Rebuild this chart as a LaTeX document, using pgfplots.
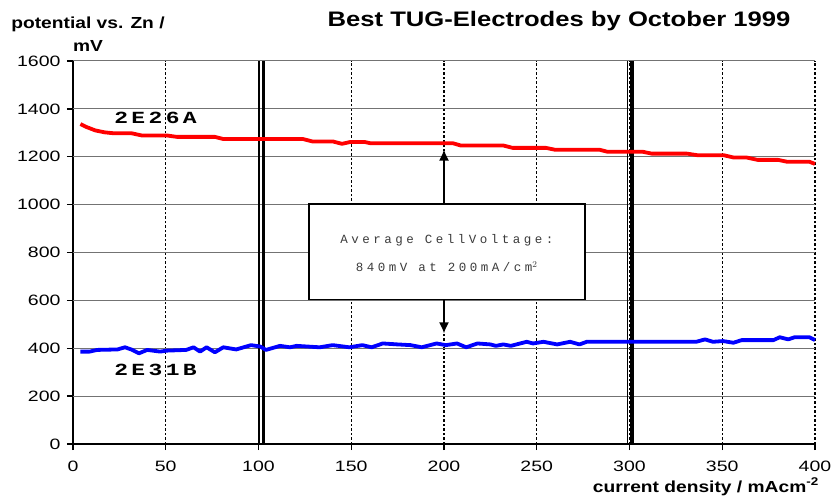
\documentclass[border=0pt]{standalone}
\usepackage{fontspec}
\setmainfont{Liberation Sans}
\usepackage{pgfplots}
\pgfplotsset{compat=1.18}
\usetikzlibrary{arrows.meta}
\newfontfamily\tickfont[FakeStretch=1.3]{Liberation Sans}
\newfontfamily\labfont[FakeStretch=1.2]{Liberation Sans}
\newfontfamily\titlefont[FakeStretch=1.22]{Liberation Sans}
\newfontfamily\boxfont[LetterSpace=28]{Liberation Mono}
\newfontfamily\serfont[FakeStretch=1.35,LetterSpace=20]{Liberation Mono}
\definecolor{boxgray}{RGB}{60,60,60}
\tikzset{hgrid/.style={draw=black!55, line width=1bp}}
\begin{document}
\begin{tikzpicture}
\useasboundingbox (-73bp,-60bp) rectangle (759bp,444bp);
\begin{axis}[
  at={(0,0)}, anchor=south west,
  scale only axis, width=742bp, height=383bp,
  xmin=0, xmax=400, ymin=0, ymax=1600,
  xtick={0,50,...,400}, ytick={0,200,...,1600},
  axis lines=left, axis line style={-, line width=1.8bp, black},
  tick align=outside, major tick length=6bp,
  major tick style={line width=1.4bp, black},
  xmajorgrids=true, ymajorgrids=false,
  major grid style={draw=black, line width=1.3bp, dash pattern=on 2.5bp off 2bp},
  /pgf/number format/assume math mode=true,
  /pgf/number format/set thousands separator={},
  ticklabel style={font=\tickfont\fontsize{15bp}{18bp}\selectfont},
  yticklabel style={xshift=-3bp},
  xticklabel style={yshift=-8bp},
  clip=false,
]
% horizontal grid
\draw[hgrid] (axis cs:0,200) -- (axis cs:400,200);
\draw[hgrid] (axis cs:0,400) -- (axis cs:400,400);
\draw[hgrid] (axis cs:0,600) -- (axis cs:400,600);
\draw[hgrid] (axis cs:0,800) -- (axis cs:400,800);
\draw[hgrid] (axis cs:0,1000) -- (axis cs:400,1000);
\draw[hgrid] (axis cs:0,1200) -- (axis cs:400,1200);
\draw[hgrid] (axis cs:0,1400) -- (axis cs:400,1400);
\draw[hgrid] (axis cs:0,1600) -- (axis cs:400,1600);
% vertical marker lines
\addplot[black, line width=1.4bp] coordinates {(100.3,0) (100.3,1600)};
\addplot[black, line width=3.5bp] coordinates {(102.6,0) (102.6,1600)};
\addplot[black, line width=1.4bp] coordinates {(299,0) (299,1600)};
\addplot[black, line width=3.5bp] coordinates {(301.3,0) (301.3,1600)};
% 2E26A
\addplot[red, line width=3.8bp, line join=round] coordinates {
(4,1337)(7,1325)(12,1310)(17,1302)(22,1298)(31.6,1298)(37,1289)(50.5,1289)(56,1283)(76.5,1283)(81,1274)(124,1274)(129,1264)(140,1264)(145,1254)(149.7,1262)(157,1262)(160.6,1256)(205,1256)(209,1247)(232,1247)(237,1237)(255,1237)(260,1229)(284,1229)(288,1221)(307,1221)(312,1213)(331,1213)(337,1206)(351,1206)(356,1197)(363,1197)(369,1187)(380,1187)(385,1179)(397,1179)(400,1170)};
% 2E31B
\addplot[blue, line width=3.8bp, line join=round] coordinates {
(4,386)(9,386)(13,393)(24,395)(28,404)(31.4,395)(35.6,379)(40,393)(47,386)(50.5,390)(61,393)(65,404)(68.5,386)(72,404)(76.5,383)(81,404)(88,395)(96,413)(101,407)(104,393)(111.6,410)(117,404)(120.6,410)(133,404)(140,413)(149,404)(156,413)(161,404)(167,420)(175,416)(182,413)(188,404)(196,420)(201,413)(207,420)(212,404)(218,420)(225,416)(228,410)(232,416)(236,410)(244.6,427)(248,420)(253.6,427)(261,416)(268,427)(273,416)(277,427)(336,427)(340.7,437)(345,427)(350.4,430)(356,423)(360.5,434)(377.6,434)(381,446)(385.6,437)(389,446)(397,446)(400,434)};
% annotation box and arrows
\draw[black, line width=1.5bp, fill=white] (axis cs:127.2,604) rectangle (axis cs:276,1003);
\draw[black, line width=1.5bp, -{Latex[length=11bp,width=10bp]}] (axis cs:200,1003) -- (axis cs:200,1230);
\draw[black, line width=1.5bp, -{Latex[length=11bp,width=10bp]}] (axis cs:200,604) -- (axis cs:200,462);
\node[text=boxgray, font=\boxfont\fontsize{12.5bp}{14bp}\selectfont, anchor=base] at (axis cs:201.5,836) {Average CellVoltage:};
\node[text=boxgray, font=\boxfont\fontsize{12.5bp}{14bp}\selectfont, anchor=base] at (axis cs:201.5,720) {840mV at 200mA/cm$^{2}$};
\node[font=\serfont\bfseries\fontsize{17bp}{20bp}\selectfont] at (axis cs:44.5,1363) {2E26A};
\node[font=\serfont\bfseries\fontsize{17bp}{20bp}\selectfont] at (axis cs:44.5,309) {2E31B};
\end{axis}
\node[font=\titlefont\bfseries\fontsize{21bp}{24bp}\selectfont, anchor=base] at (486bp,417bp) {Best TUG-Electrodes by October 1999};
\node[font=\labfont\bfseries\fontsize{16bp}{18bp}\selectfont, anchor=base] at (15bp,415bp) {potential vs. Zn /};
\node[font=\labfont\bfseries\fontsize{16bp}{18bp}\selectfont, anchor=base] at (15bp,392bp) {mV};
\node[font=\labfont\bfseries\fontsize{16bp}{18bp}\selectfont, anchor=base east, inner sep=0pt] at (746bp,-48bp) {current density / mAcm\textsuperscript{-2}};
\end{tikzpicture}
\end{document}
